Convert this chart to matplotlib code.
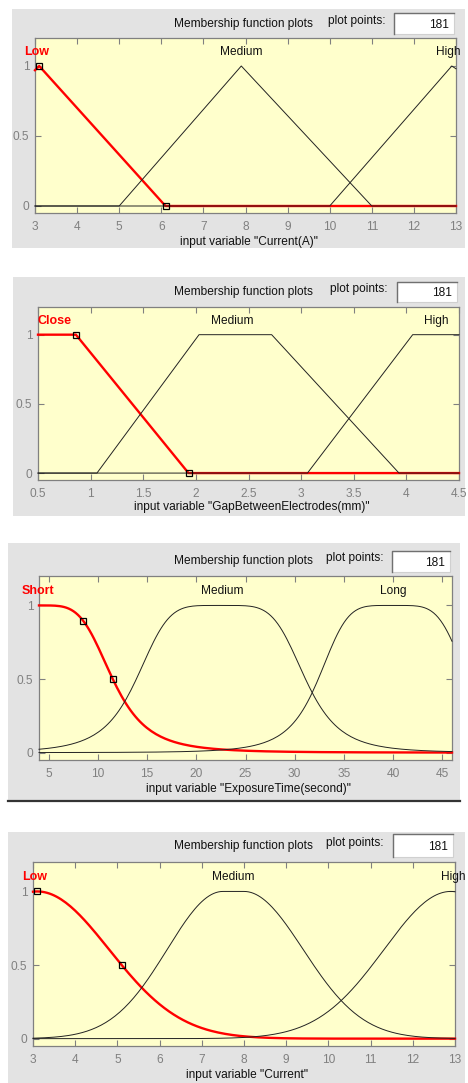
import numpy as np
import matplotlib.pyplot as plt
from matplotlib.patches import Rectangle
from matplotlib.lines import Line2D

plt.rcParams['font.family'] = ['Liberation Sans', 'DejaVu Sans']

W, H = 468, 1083
N_POINTS = 181

# ---- panel 1: Current(A), triangular MFs (breakpoints)
cur_names = ["Low", "Medium", "High"]
cur_low_x = [3, 3.1, 6.1, 13]
cur_low_y = [0.97, 1, 0, 0]
cur_med_x = [3, 5, 7.9, 11, 13]
cur_med_y = [0, 0, 1, 0, 0]
cur_high_x = [3, 10, 12.9, 13]
cur_high_y = [0, 0, 1, 0.98]
cur_label_x = [3.05, 7.9, 12.82]
cur_square_x = [3.1, 6.1]
cur_square_y = [1, 0]
cur_ticks = [3, 4, 5, 6, 7, 8, 9, 10, 11, 12, 13]

# ---- panel 2: GapBetweenElectrodes(mm), trapezoid MFs
gap_names = ["Close", "Medium", "High"]
gap_close_x = [0.5, 0.86, 1.93, 4.5]
gap_close_y = [1, 1, 0, 0]
gap_med_x = [0.5, 1.06, 2.03, 2.72, 3.93, 4.5]
gap_med_y = [0, 0, 1, 1, 0, 0]
gap_high_x = [0.5, 3.06, 4.06, 4.5]
gap_high_y = [0, 0, 1, 1]
gap_label_x = [0.66, 2.35, 4.28]
gap_square_x = [0.86, 1.93]
gap_square_y = [1, 0]
gap_ticks = [0.5, 1, 1.5, 2, 2.5, 3, 3.5, 4, 4.5]
gap_ticklabels = ["0.5", "1", "1.5", "2", "2.5", "3", "3.5", "4", "4.5"]

# ---- panel 3: ExposureTime(second), generalized bell MFs [a, b, c]
exp_names = ["Short", "Medium", "Long"]
exp_short = [7.5, 2.1, 4.0]
exp_med = [8.6, 2.45, 22.5]
exp_long = [7.6, 2.4, 40.0]
exp_label_x = [3.85, 22.6, 40.0]
exp_square_x = [8.5, 11.5]
exp_ticks = [5, 10, 15, 20, 25, 30, 35, 40, 45]

# ---- panel 4: Current, gaussian MFs
crt_names = ["Low", "Medium", "High"]
crt_low = [1.7, 3.1]                 # sigma, centre
crt_med = [1.32, 7.5, 1.4, 8.0]      # gauss2mf: s1, c1, s2, c2
crt_high = [1.58, 12.9]
crt_label_x = [3.05, 7.74, 12.95]
crt_square_x = [3.1, 5.1]
crt_ticks = [3, 4, 5, 6, 7, 8, 9, 10, 11, 12, 13]


def gbellmf(x, p):
    a, b, c = p
    return 1.0 / (1.0 + np.abs((x - c) / a) ** (2 * b))


def gaussmf(x, p):
    s, c = p
    return np.exp(-(x - c) ** 2 / (2 * s ** 2))


def gauss2mf(x, p):
    s1, c1, s2, c2 = p
    y = np.ones_like(x)
    y = np.where(x < c1, gaussmf(x, [s1, c1]), y)
    y = np.where(x > c2, gaussmf(x, [s2, c2]), y)
    return y


x3 = np.linspace(4, 46, N_POINTS)
x4 = np.linspace(3, 13, N_POINTS)

panels = [
    dict(box=(12, 9, 465, 248), ax=(35, 38, 456, 213), head_y=24, pp_y=21,
         numbox=(394, 13, 454, 34), xlab_y=242,
         xlim=(3, 13), ticks=cur_ticks, ticklabels=[str(t) for t in cur_ticks],
         xlabel='input variable "Current(A)"',
         curves=[(cur_low_x, cur_low_y), (cur_med_x, cur_med_y), (cur_high_x, cur_high_y)],
         names=cur_names, label_x=cur_label_x,
         sq=(cur_square_x, cur_square_y)),
    dict(box=(13, 277, 465, 516), ax=(38, 307, 459, 480), head_y=292, pp_y=289,
         numbox=(397, 282, 457, 302), xlab_y=507,
         xlim=(0.5, 4.5), ticks=gap_ticks, ticklabels=gap_ticklabels,
         xlabel='input variable "GapBetweenElectrodes(mm)"',
         curves=[(gap_close_x, gap_close_y), (gap_med_x, gap_med_y), (gap_high_x, gap_high_y)],
         names=gap_names, label_x=gap_label_x,
         sq=(gap_square_x, gap_square_y)),
    dict(box=(8, 543, 460, 801), ax=(39, 576, 452, 760), head_y=561, pp_y=558,
         numbox=(392, 551, 450, 572), xlab_y=789,
         xlim=(4, 46), ticks=exp_ticks, ticklabels=[str(t) for t in exp_ticks],
         xlabel='input variable "ExposureTime(second)"',
         curves=[(x3, gbellmf(x3, exp_short)), (x3, gbellmf(x3, exp_med)),
                 (x3, gbellmf(x3, exp_long))],
         names=exp_names, label_x=exp_label_x,
         sq=(exp_square_x, gbellmf(np.array(exp_square_x), exp_short))),
    dict(box=(8, 832, 465, 1083), ax=(33, 862, 455, 1046), head_y=846, pp_y=843,
         numbox=(393, 834, 453, 857), xlab_y=1075,
         xlim=(3, 13), ticks=crt_ticks, ticklabels=[str(t) for t in crt_ticks],
         xlabel='input variable "Current"',
         curves=[(x4, gaussmf(x4, crt_low)), (x4, gauss2mf(x4, crt_med)),
                 (x4, gaussmf(x4, crt_high))],
         names=crt_names, label_x=crt_label_x,
         sq=(crt_square_x, gaussmf(np.array(crt_square_x), crt_low))),
]

fig = plt.figure(figsize=(W / 100, H / 100), dpi=100)
fig.patch.set_facecolor('white')


def fx(x):
    return x / W


def fy(y):
    return 1 - y / H


def px_rect(x0, y0, x1, y1, **kw):
    fig.add_artist(Rectangle((fx(x0), fy(y1)), fx(x1 - x0), (y1 - y0) / H,
                             transform=fig.transFigure, **kw))


def px_line(xs, ys, **kw):
    fig.add_artist(Line2D([fx(v) for v in xs], [fy(v) for v in ys],
                          transform=fig.transFigure, **kw))


GRAY_TXT = '#808080'
FS = 8.6

for p in panels:
    x0, y0, x1, y1 = p['box']
    px_rect(x0, y0, x1, y1, facecolor='#e3e3e3', edgecolor='none', zorder=0)

    fig.text(fx(243), fy(p['head_y']), "Membership function plots",
             ha='center', va='center', fontsize=FS, color='#111111')
    bx0, by0, bx1, by1 = p['numbox']
    fig.text(fx(bx0 - 9), fy(p['pp_y']), "plot points:", ha='right', va='center',
             fontsize=FS, color='#111111')
    px_rect(bx0, by0, bx1, by1, facecolor='white', edgecolor='#d0d0d0', lw=0.8, zorder=1)
    px_line([bx0, bx0, bx1], [by1, by0, by0], color='#707070', lw=1.0, zorder=2)
    fig.text(fx(bx1 - 5), fy((by0 + by1) / 2 + 1), str(N_POINTS), ha='right', va='center',
             fontsize=FS, color='#111111')

    ax0, ay0, ax1, ay1 = p['ax']
    ax = fig.add_axes([fx(ax0), fy(ay1), fx(ax1 - ax0), (ay1 - ay0) / H])
    ax.set_facecolor('#ffffcc')
    ax.set_xlim(*p['xlim'])
    ax.set_ylim(-0.05, 1.2)
    ax.set_xticks(p['ticks'])
    ax.set_xticklabels(p['ticklabels'])
    ax.set_yticks([0, 0.5, 1])
    ax.set_yticklabels(['0', '0.5', '1'])
    ax.tick_params(direction='in', length=4, width=0.8, color=GRAY_TXT,
                   labelcolor=GRAY_TXT, labelsize=FS, top=True, right=True, pad=4)
    ax.tick_params(axis='x', pad=5.5)
    for s in ax.spines.values():
        s.set_color(GRAY_TXT)
        s.set_linewidth(0.9)

    for i, (cx, cy) in enumerate(p['curves']):
        if i == 0:
            ax.plot(cx, cy, color='red', lw=1.7, zorder=3, clip_on=False)
        else:
            ax.plot(cx, cy, color='#222222', lw=0.7, zorder=4, clip_on=False)

    for i, (name, lx) in enumerate(zip(p['names'], p['label_x'])):
        if i == 0:
            ax.text(lx, 1.1, name, ha='center', va='center', fontsize=9,
                    color='red', fontweight='bold', clip_on=False)
        else:
            ax.text(lx, 1.1, name, ha='center', va='center', fontsize=FS,
                    color='#111111', clip_on=False)

    sx, sy = p['sq']
    ax.plot(sx, sy, ls='none', marker='s', ms=4, mfc='none', mec='black',
            mew=0.9, zorder=5, clip_on=False)

    fig.text(fx((ax0 + ax1) / 2 + 3), fy(p['xlab_y']), p['xlabel'], ha='center',
             va='center', fontsize=FS, color='#111111')

# dark separator under the third panel
px_line([8, 460], [801, 801], color='#333333', lw=1.6)

fig.savefig('out.png', dpi=100)
